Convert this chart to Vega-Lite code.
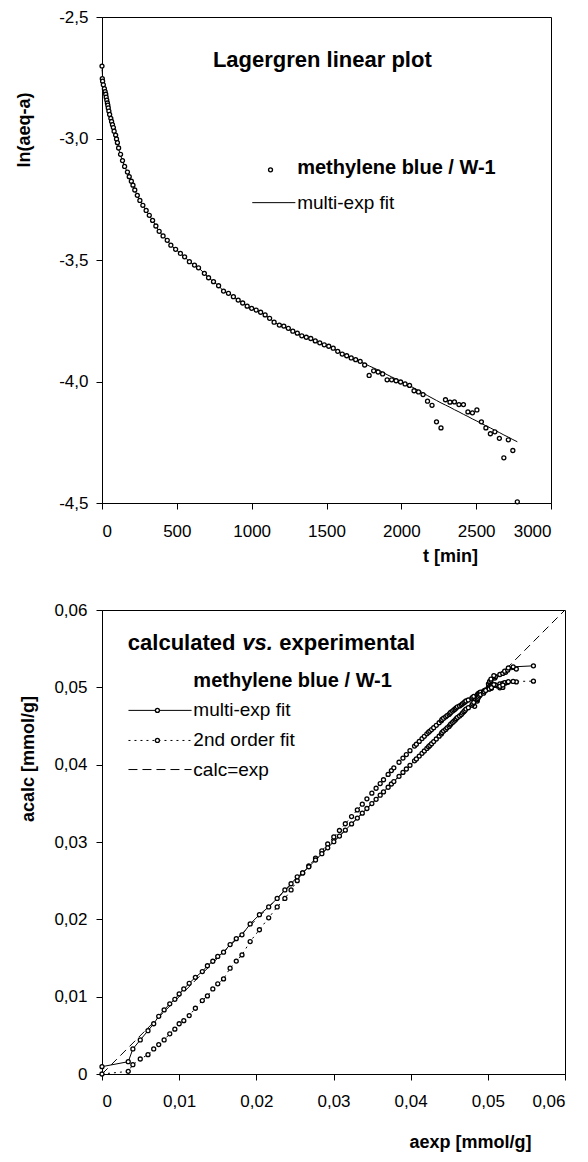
{
  "$schema": "https://vega.github.io/schema/vega-lite/v6.json",
  "background": "white",
  "padding": {"left": 14, "top": 7, "right": 5, "bottom": 5},
  "spacing": 34,
  "config": {
    "view": {"stroke": "black", "strokeWidth": 1},
    "axis": {
      "domainColor": "black", "tickColor": "black", "labelColor": "black", "titleColor": "black",
      "labelFont": "Liberation Sans", "titleFont": "Liberation Sans",
      "labelFontSize": 17, "titleFontSize": 18, "titleFontWeight": "bold",
      "tickSize": 6, "grid": false
    },
    "text": {"font": "Liberation Sans", "color": "black"}
  },
  "datasets": {
    "diag": [{"v": 0}, {"v": 0.06}],
    "kin": [
      {"t":0,"ln":-2.702,"fit":-2.716,"ae":0,"mc":0.00095,"sc":0},
      {"t":2,"ln":-2.754,"fit":-2.726,"ae":0.0034,"mc":0.00159,"sc":0.00034},
      {"t":4,"ln":-2.764,"fit":-2.752,"ae":0.004,"mc":0.00324,"sc":0.0012},
      {"t":9,"ln":-2.779,"fit":-2.77,"ae":0.00496,"mc":0.0044,"sc":0.00194},
      {"t":16,"ln":-2.795,"fit":-2.789,"ae":0.00596,"mc":0.0056,"sc":0.0025},
      {"t":21,"ln":-2.807,"fit":-2.804,"ae":0.0067,"mc":0.0065,"sc":0.00324},
      {"t":25,"ln":-2.818,"fit":-2.82,"ae":0.00735,"mc":0.00746,"sc":0.0038},
      {"t":28,"ln":-2.83,"fit":-2.834,"ae":0.00805,"mc":0.00829,"sc":0.0044},
      {"t":32,"ln":-2.842,"fit":-2.847,"ae":0.00878,"mc":0.00907,"sc":0.0052},
      {"t":36,"ln":-2.854,"fit":-2.858,"ae":0.00944,"mc":0.00966,"sc":0.0058},
      {"t":39,"ln":-2.863,"fit":-2.87,"ae":0.01,"mc":0.01036,"sc":0.0065},
      {"t":42,"ln":-2.874,"fit":-2.881,"ae":0.0106,"mc":0.011,"sc":0.0069},
      {"t":46,"ln":-2.887,"fit":-2.894,"ae":0.0113,"mc":0.01173,"sc":0.00755},
      {"t":51,"ln":-2.901,"fit":-2.908,"ae":0.0121,"mc":0.0125,"sc":0.0085},
      {"t":59,"ln":-2.917,"fit":-2.922,"ae":0.013,"mc":0.01325,"sc":0.0095},
      {"t":64,"ln":-2.93,"fit":-2.936,"ae":0.01366,"mc":0.014,"sc":0.0101},
      {"t":70,"ln":-2.943,"fit":-2.947,"ae":0.01436,"mc":0.01458,"sc":0.011},
      {"t":76,"ln":-2.955,"fit":-2.959,"ae":0.015,"mc":0.0152,"sc":0.01166},
      {"t":81,"ln":-2.97,"fit":-2.97,"ae":0.01575,"mc":0.01575,"sc":0.0123},
      {"t":91,"ln":-2.986,"fit":-2.989,"ae":0.0166,"mc":0.01674,"sc":0.01368},
      {"t":97,"ln":-3.002,"fit":-3.004,"ae":0.0174,"mc":0.0175,"sc":0.0146},
      {"t":103,"ln":-3.017,"fit":-3.015,"ae":0.01814,"mc":0.018,"sc":0.0154},
      {"t":111,"ln":-3.039,"fit":-3.043,"ae":0.0192,"mc":0.0194,"sc":0.01713},
      {"t":124,"ln":-3.065,"fit":-3.069,"ae":0.0204,"mc":0.0206,"sc":0.01865},
      {"t":137,"ln":-3.091,"fit":-3.091,"ae":0.0216,"mc":0.0216,"sc":0.0202},
      {"t":151,"ln":-3.115,"fit":-3.115,"ae":0.0227,"mc":0.0227,"sc":0.0216},
      {"t":170,"ln":-3.138,"fit":-3.14,"ae":0.0237,"mc":0.0238,"sc":0.0227},
      {"t":182,"ln":-3.157,"fit":-3.159,"ae":0.0245,"mc":0.0246,"sc":0.0238},
      {"t":196,"ln":-3.176,"fit":-3.18,"ae":0.0253,"mc":0.0255,"sc":0.025},
      {"t":207,"ln":-3.192,"fit":-3.192,"ae":0.026,"mc":0.026,"sc":0.026},
      {"t":219,"ln":-3.212,"fit":-3.212,"ae":0.0268,"mc":0.0268,"sc":0.0269},
      {"t":236,"ln":-3.234,"fit":-3.234,"ae":0.02767,"mc":0.02767,"sc":0.02792},
      {"t":253,"ln":-3.255,"fit":-3.255,"ae":0.02849,"mc":0.02849,"sc":0.02886},
      {"t":273,"ln":-3.275,"fit":-3.275,"ae":0.02925,"mc":0.02925,"sc":0.02974},
      {"t":295,"ln":-3.296,"fit":-3.296,"ae":0.03004,"mc":0.03004,"sc":0.03065},
      {"t":316,"ln":-3.316,"fit":-3.316,"ae":0.03077,"mc":0.03077,"sc":0.03149},
      {"t":338,"ln":-3.337,"fit":-3.337,"ae":0.03153,"mc":0.03153,"sc":0.03236},
      {"t":360,"ln":-3.36,"fit":-3.36,"ae":0.03234,"mc":0.03234,"sc":0.03329},
      {"t":382,"ln":-3.382,"fit":-3.382,"ae":0.03309,"mc":0.03309,"sc":0.03415},
      {"t":408,"ln":-3.401,"fit":-3.401,"ae":0.03373,"mc":0.03373,"sc":0.03489},
      {"t":436,"ln":-3.419,"fit":-3.419,"ae":0.03433,"mc":0.03433,"sc":0.03558},
      {"t":460,"ln":-3.439,"fit":-3.439,"ae":0.03497,"mc":0.03497,"sc":0.03632},
      {"t":492,"ln":-3.456,"fit":-3.456,"ae":0.03552,"mc":0.03552,"sc":0.03695},
      {"t":524,"ln":-3.473,"fit":-3.473,"ae":0.03605,"mc":0.03605,"sc":0.03756},
      {"t":552,"ln":-3.487,"fit":-3.487,"ae":0.03648,"mc":0.03648,"sc":0.03805},
      {"t":584,"ln":-3.507,"fit":-3.507,"ae":0.03708,"mc":0.03708,"sc":0.03874},
      {"t":618,"ln":-3.521,"fit":-3.521,"ae":0.0375,"mc":0.0375,"sc":0.03923},
      {"t":645,"ln":-3.532,"fit":-3.532,"ae":0.03782,"mc":0.03782,"sc":0.03959},
      {"t":684,"ln":-3.555,"fit":-3.555,"ae":0.03849,"mc":0.03849,"sc":0.04031},
      {"t":712,"ln":-3.573,"fit":-3.573,"ae":0.039,"mc":0.039,"sc":0.04085},
      {"t":745,"ln":-3.589,"fit":-3.589,"ae":0.03944,"mc":0.03944,"sc":0.04131},
      {"t":779,"ln":-3.606,"fit":-3.606,"ae":0.03991,"mc":0.03991,"sc":0.04181},
      {"t":812,"ln":-3.628,"fit":-3.628,"ae":0.0405,"mc":0.0405,"sc":0.0424},
      {"t":845,"ln":-3.637,"fit":-3.637,"ae":0.04074,"mc":0.04074,"sc":0.04264},
      {"t":878,"ln":-3.651,"fit":-3.651,"ae":0.04111,"mc":0.04111,"sc":0.04301},
      {"t":910,"ln":-3.665,"fit":-3.665,"ae":0.04147,"mc":0.04147,"sc":0.04337},
      {"t":940,"ln":-3.677,"fit":-3.677,"ae":0.04177,"mc":0.04177,"sc":0.04367},
      {"t":970,"ln":-3.69,"fit":-3.69,"ae":0.0421,"mc":0.0421,"sc":0.04399},
      {"t":1000,"ln":-3.699,"fit":-3.699,"ae":0.04232,"mc":0.04232,"sc":0.04419},
      {"t":1030,"ln":-3.706,"fit":-3.706,"ae":0.04249,"mc":0.04249,"sc":0.04434},
      {"t":1060,"ln":-3.715,"fit":-3.715,"ae":0.04271,"mc":0.04271,"sc":0.04454},
      {"t":1090,"ln":-3.726,"fit":-3.726,"ae":0.04298,"mc":0.04298,"sc":0.04478},
      {"t":1120,"ln":-3.74,"fit":-3.74,"ae":0.04332,"mc":0.04332,"sc":0.04509},
      {"t":1150,"ln":-3.756,"fit":-3.756,"ae":0.04369,"mc":0.04369,"sc":0.04542},
      {"t":1185,"ln":-3.768,"fit":-3.768,"ae":0.04397,"mc":0.04397,"sc":0.04567},
      {"t":1215,"ln":-3.772,"fit":-3.776,"ae":0.04406,"mc":0.04416,"sc":0.04584},
      {"t":1245,"ln":-3.781,"fit":-3.785,"ae":0.04427,"mc":0.04436,"sc":0.04601},
      {"t":1275,"ln":-3.793,"fit":-3.794,"ae":0.04454,"mc":0.04456,"sc":0.04618},
      {"t":1305,"ln":-3.801,"fit":-3.803,"ae":0.04472,"mc":0.04477,"sc":0.04635},
      {"t":1335,"ln":-3.812,"fit":-3.811,"ae":0.04497,"mc":0.04494,"sc":0.0465},
      {"t":1365,"ln":-3.818,"fit":-3.819,"ae":0.0451,"mc":0.04512,"sc":0.04665},
      {"t":1395,"ln":-3.823,"fit":-3.826,"ae":0.04521,"mc":0.04527,"sc":0.04678},
      {"t":1425,"ln":-3.833,"fit":-3.834,"ae":0.04543,"mc":0.04545,"sc":0.04693},
      {"t":1455,"ln":-3.841,"fit":-3.842,"ae":0.0456,"mc":0.04562,"sc":0.04708},
      {"t":1485,"ln":-3.849,"fit":-3.849,"ae":0.04577,"mc":0.04577,"sc":0.0472},
      {"t":1515,"ln":-3.855,"fit":-3.857,"ae":0.0459,"mc":0.04594,"sc":0.04735},
      {"t":1545,"ln":-3.863,"fit":-3.865,"ae":0.04607,"mc":0.04611,"sc":0.04748},
      {"t":1575,"ln":-3.876,"fit":-3.874,"ae":0.04634,"mc":0.04629,"sc":0.0476},
      {"t":1605,"ln":-3.887,"fit":-3.883,"ae":0.04656,"mc":0.04648,"sc":0.04774},
      {"t":1635,"ln":-3.894,"fit":-3.892,"ae":0.04671,"mc":0.04667,"sc":0.04787},
      {"t":1665,"ln":-3.903,"fit":-3.901,"ae":0.04689,"mc":0.04685,"sc":0.048},
      {"t":1695,"ln":-3.91,"fit":-3.909,"ae":0.04703,"mc":0.04701,"sc":0.04811},
      {"t":1725,"ln":-3.917,"fit":-3.918,"ae":0.04717,"mc":0.04719,"sc":0.04823},
      {"t":1755,"ln":-3.932,"fit":-3.927,"ae":0.04747,"mc":0.04737,"sc":0.04836},
      {"t":1785,"ln":-3.975,"fit":-3.936,"ae":0.04829,"mc":0.04754,"sc":0.04848},
      {"t":1815,"ln":-3.956,"fit":-3.944,"ae":0.04793,"mc":0.0477,"sc":0.04859},
      {"t":1845,"ln":-3.961,"fit":-3.953,"ae":0.04803,"mc":0.04787,"sc":0.04871},
      {"t":1875,"ln":-3.969,"fit":-3.962,"ae":0.04818,"mc":0.04805,"sc":0.04883},
      {"t":1905,"ln":-3.993,"fit":-3.972,"ae":0.04863,"mc":0.04823,"sc":0.04893},
      {"t":1935,"ln":-3.993,"fit":-3.981,"ae":0.04863,"mc":0.0484,"sc":0.04902},
      {"t":1965,"ln":-3.997,"fit":-3.99,"ae":0.0487,"mc":0.04857,"sc":0.04911},
      {"t":1995,"ln":-4.002,"fit":-3.999,"ae":0.04879,"mc":0.04874,"sc":0.04921},
      {"t":2025,"ln":-4.01,"fit":-4.008,"ae":0.04894,"mc":0.0489,"sc":0.0493},
      {"t":2055,"ln":-4.016,"fit":-4.017,"ae":0.04905,"mc":0.04906,"sc":0.04938},
      {"t":2085,"ln":-4.038,"fit":-4.027,"ae":0.04944,"mc":0.04924,"sc":0.04948},
      {"t":2115,"ln":-4.043,"fit":-4.037,"ae":0.04953,"mc":0.04942,"sc":0.04958},
      {"t":2145,"ln":-4.054,"fit":-4.047,"ae":0.04972,"mc":0.0496,"sc":0.04968},
      {"t":2175,"ln":-4.081,"fit":-4.058,"ae":0.05018,"mc":0.04979,"sc":0.04978},
      {"t":2205,"ln":-4.098,"fit":-4.068,"ae":0.05046,"mc":0.04996,"sc":0.04988},
      {"t":2235,"ln":-4.166,"fit":-4.078,"ae":0.05156,"mc":0.05013,"sc":0.04994},
      {"t":2265,"ln":-4.191,"fit":-4.088,"ae":0.05194,"mc":0.0503,"sc":0.04999},
      {"t":2295,"ln":-4.075,"fit":-4.097,"ae":0.05008,"mc":0.05045,"sc":0.05004},
      {"t":2325,"ln":-4.085,"fit":-4.106,"ae":0.05025,"mc":0.0506,"sc":0.05008},
      {"t":2355,"ln":-4.084,"fit":-4.116,"ae":0.05023,"mc":0.05076,"sc":0.05013},
      {"t":2385,"ln":-4.095,"fit":-4.125,"ae":0.05041,"mc":0.05091,"sc":0.05017},
      {"t":2415,"ln":-4.095,"fit":-4.135,"ae":0.05041,"mc":0.05107,"sc":0.05022},
      {"t":2445,"ln":-4.125,"fit":-4.144,"ae":0.05091,"mc":0.05121,"sc":0.05026},
      {"t":2475,"ln":-4.129,"fit":-4.154,"ae":0.05097,"mc":0.05137,"sc":0.05031},
      {"t":2505,"ln":-4.117,"fit":-4.163,"ae":0.05078,"mc":0.05151,"sc":0.05035},
      {"t":2535,"ln":-4.166,"fit":-4.173,"ae":0.05156,"mc":0.05166,"sc":0.05045},
      {"t":2565,"ln":-4.191,"fit":-4.182,"ae":0.05194,"mc":0.0518,"sc":0.0505},
      {"t":2595,"ln":-4.215,"fit":-4.191,"ae":0.0523,"mc":0.05194,"sc":0.05055},
      {"t":2625,"ln":-4.207,"fit":-4.201,"ae":0.05218,"mc":0.05209,"sc":0.0506},
      {"t":2655,"ln":-4.234,"fit":-4.21,"ae":0.05258,"mc":0.05222,"sc":0.05065},
      {"t":2685,"ln":-4.314,"fit":-4.22,"ae":0.05369,"mc":0.05237,"sc":0.0507},
      {"t":2715,"ln":-4.24,"fit":-4.229,"ae":0.05266,"mc":0.0525,"sc":0.05073},
      {"t":2745,"ln":-4.284,"fit":-4.239,"ae":0.05328,"mc":0.05265,"sc":0.05076},
      {"t":2775,"ln":-4.495,"fit":-4.248,"ae":0.05591,"mc":0.05278,"sc":0.0508}
    ]
  },
  "vconcat": [
    {
      "width": 449,
      "height": 486,
      "layer": [
        {
          "data": {"name": "kin"},
          "mark": {"type": "line", "color": "black", "strokeWidth": 1},
          "encoding": {
            "x": {"field": "t", "type": "quantitative",
                  "scale": {"domain": [0, 3000], "nice": false, "zero": false},
                  "axis": {"values": [0, 500, 1000, 1500, 2000, 2500, 3000], "format": "d",
                           "title": "t [min]", "titleX": 348, "titleY": 53, "titleAlign": "center",
                           "titleBaseline": "middle", "labelPadding": 14}},
            "y": {"field": "fit", "type": "quantitative",
                  "scale": {"domain": [-4.5, -2.5], "nice": false, "zero": false},
                  "axis": {"values": [-4.5, -4, -3.5, -3, -2.5], "format": ".1f",
                           "labelExpr": "replace(replace(datum.label, '.', ','), '\u2212', '-')",
                           "title": "ln(aeq-a)", "titleX": -78, "titleY": 112.5, "titleAlign": "center",
                           "titleBaseline": "middle", "labelPadding": 8}},
            "order": {"field": "t", "type": "quantitative"}
          }
        },
        {
          "data": {"name": "kin"},
          "mark": {"type": "point", "shape": "circle", "filled": true, "fill": "white", "stroke": "black", "strokeWidth": 1.3, "size": 16, "opacity": 1},
          "encoding": {
            "x": {"field": "t", "type": "quantitative"},
            "y": {"field": "ln", "type": "quantitative"}
          }
        },
        {
          "data": {"values": [{}]},
          "mark": {"type": "text", "text": "Lagergren linear plot", "fontWeight": "bold", "fontSize": 22, "align": "center", "baseline": "middle"},
          "encoding": {"x": {"datum": 1472, "type": "quantitative"}, "y": {"datum": -2.675, "type": "quantitative"}}
        },
        {
          "data": {"values": [{}]},
          "mark": {"type": "point", "shape": "circle", "filled": true, "fill": "white", "stroke": "black", "strokeWidth": 1.3, "size": 16, "opacity": 1},
          "encoding": {"x": {"datum": 1126, "type": "quantitative"}, "y": {"datum": -3.129, "type": "quantitative"}}
        },
        {
          "data": {"values": [{}]},
          "mark": {"type": "text", "text": "methylene blue / W-1", "fontWeight": "bold", "fontSize": 20, "align": "left", "baseline": "middle"},
          "encoding": {"x": {"datum": 1304, "type": "quantitative"}, "y": {"datum": -3.122, "type": "quantitative"}}
        },
        {
          "data": {"values": [{}]},
          "mark": {"type": "rule", "color": "black", "strokeWidth": 1},
          "encoding": {"x": {"datum": 1004, "type": "quantitative"}, "x2": {"datum": 1292}, "y": {"datum": -3.264, "type": "quantitative"}}
        },
        {
          "data": {"values": [{}]},
          "mark": {"type": "text", "text": "multi-exp fit", "fontSize": 19, "align": "left", "baseline": "middle"},
          "encoding": {"x": {"datum": 1304, "type": "quantitative"}, "y": {"datum": -3.264, "type": "quantitative"}}
        }
      ]
    },
    {
      "width": 463,
      "height": 464,
      "layer": [
        {
          "data": {"name": "diag"},
          "mark": {"type": "line", "color": "black", "strokeWidth": 1, "strokeDash": [8, 5]},
          "encoding": {
            "x": {"field": "v", "type": "quantitative",
                  "scale": {"domain": [0, 0.06], "nice": false, "zero": false},
                  "axis": {"values": [0, 0.01, 0.02, 0.03, 0.04, 0.05, 0.06],
                           "labelExpr": "datum.value === 0 ? '0' : replace(format(datum.value, '.2f'), '.', ',')",
                           "title": "aexp [mmol/g]", "titleX": 368, "titleY": 68, "titleAlign": "center",
                           "titleBaseline": "middle", "labelPadding": 13}},
            "y": {"field": "v", "type": "quantitative",
                  "scale": {"domain": [0, 0.06], "nice": false, "zero": false},
                  "axis": {"values": [0, 0.01, 0.02, 0.03, 0.04, 0.05, 0.06],
                           "labelExpr": "datum.value === 0 ? '0' : replace(format(datum.value, '.2f'), '.', ',')",
                           "title": "acalc [mmol/g]", "titleX": -74, "titleY": 148.5, "titleAlign": "center",
                           "titleBaseline": "middle", "labelPadding": 9}}
          }
        },
        {
          "data": {"name": "kin"},
          "mark": {"type": "line", "color": "black", "strokeWidth": 1, "strokeDash": [2, 4]},
          "encoding": {
            "x": {"field": "ae", "type": "quantitative"},
            "y": {"field": "sc", "type": "quantitative"},
            "order": {"field": "t", "type": "quantitative"}
          }
        },
        {
          "data": {"name": "kin"},
          "mark": {"type": "line", "color": "black", "strokeWidth": 1},
          "encoding": {
            "x": {"field": "ae", "type": "quantitative"},
            "y": {"field": "mc", "type": "quantitative"},
            "order": {"field": "t", "type": "quantitative"}
          }
        },
        {
          "data": {"name": "kin"},
          "mark": {"type": "point", "shape": "circle", "filled": true, "fill": "white", "stroke": "black", "strokeWidth": 1.3, "size": 16, "opacity": 1},
          "encoding": {
            "x": {"field": "ae", "type": "quantitative"},
            "y": {"field": "sc", "type": "quantitative"}
          }
        },
        {
          "data": {"name": "kin"},
          "mark": {"type": "point", "shape": "circle", "filled": true, "fill": "white", "stroke": "black", "strokeWidth": 1.3, "size": 16, "opacity": 1},
          "encoding": {
            "x": {"field": "ae", "type": "quantitative"},
            "y": {"field": "mc", "type": "quantitative"}
          }
        },
        {
          "data": {"values": [{}]},
          "mark": {"type": "text", "text": "calculated", "fontWeight": "bold", "fontSize": 22, "align": "left", "baseline": "middle"},
          "encoding": {"x": {"datum": 0.00335, "type": "quantitative"}, "y": {"datum": 0.05569, "type": "quantitative"}}
        },
        {
          "data": {"values": [{}]},
          "mark": {"type": "text", "text": "vs.", "fontWeight": "bold", "fontStyle": "italic", "fontSize": 22, "align": "left", "baseline": "middle"},
          "encoding": {"x": {"datum": 0.01819, "type": "quantitative"}, "y": {"datum": 0.05569, "type": "quantitative"}}
        },
        {
          "data": {"values": [{}]},
          "mark": {"type": "text", "text": "experimental", "fontWeight": "bold", "fontSize": 22, "align": "left", "baseline": "middle"},
          "encoding": {"x": {"datum": 0.02298, "type": "quantitative"}, "y": {"datum": 0.05569, "type": "quantitative"}}
        },
        {
          "data": {"values": [{}]},
          "mark": {"type": "text", "text": "methylene blue / W-1", "fontWeight": "bold", "fontSize": 20, "align": "left", "baseline": "middle"},
          "encoding": {"x": {"datum": 0.01184, "type": "quantitative"}, "y": {"datum": 0.0508, "type": "quantitative"}}
        },
        {
          "data": {"values": [{}]},
          "mark": {"type": "rule", "color": "black", "strokeWidth": 1},
          "encoding": {"x": {"datum": 0.00343, "type": "quantitative"}, "x2": {"datum": 0.01161}, "y": {"datum": 0.04702, "type": "quantitative"}}
        },
        {
          "data": {"values": [{}]},
          "mark": {"type": "rule", "color": "black", "strokeWidth": 1, "strokeDash": [2, 4]},
          "encoding": {"x": {"datum": 0.00343, "type": "quantitative"}, "x2": {"datum": 0.01161}, "y": {"datum": 0.04313, "type": "quantitative"}}
        },
        {
          "data": {"values": [{}]},
          "mark": {"type": "rule", "color": "black", "strokeWidth": 1, "strokeDash": [9, 5]},
          "encoding": {"x": {"datum": 0.00343, "type": "quantitative"}, "x2": {"datum": 0.01161}, "y": {"datum": 0.03937, "type": "quantitative"}}
        },
        {
          "data": {"values": [{}]},
          "mark": {"type": "point", "shape": "circle", "filled": true, "fill": "white", "stroke": "black", "strokeWidth": 1.3, "size": 16, "opacity": 1},
          "encoding": {"x": {"datum": 0.00718, "type": "quantitative"}, "y": {"datum": 0.04702, "type": "quantitative"}}
        },
        {
          "data": {"values": [{}]},
          "mark": {"type": "point", "shape": "circle", "filled": true, "fill": "white", "stroke": "black", "strokeWidth": 1.3, "size": 16, "opacity": 1},
          "encoding": {"x": {"datum": 0.00718, "type": "quantitative"}, "y": {"datum": 0.04313, "type": "quantitative"}}
        },
        {
          "data": {"values": [{}]},
          "mark": {"type": "text", "text": "multi-exp fit", "fontSize": 19, "align": "left", "baseline": "middle"},
          "encoding": {"x": {"datum": 0.01184, "type": "quantitative"}, "y": {"datum": 0.04702, "type": "quantitative"}}
        },
        {
          "data": {"values": [{}]},
          "mark": {"type": "text", "text": "2nd order fit", "fontSize": 19, "align": "left", "baseline": "middle"},
          "encoding": {"x": {"datum": 0.01184, "type": "quantitative"}, "y": {"datum": 0.04313, "type": "quantitative"}}
        },
        {
          "data": {"values": [{}]},
          "mark": {"type": "text", "text": "calc=exp", "fontSize": 19, "align": "left", "baseline": "middle"},
          "encoding": {"x": {"datum": 0.01184, "type": "quantitative"}, "y": {"datum": 0.03937, "type": "quantitative"}}
        }
      ]
    }
  ]
}
